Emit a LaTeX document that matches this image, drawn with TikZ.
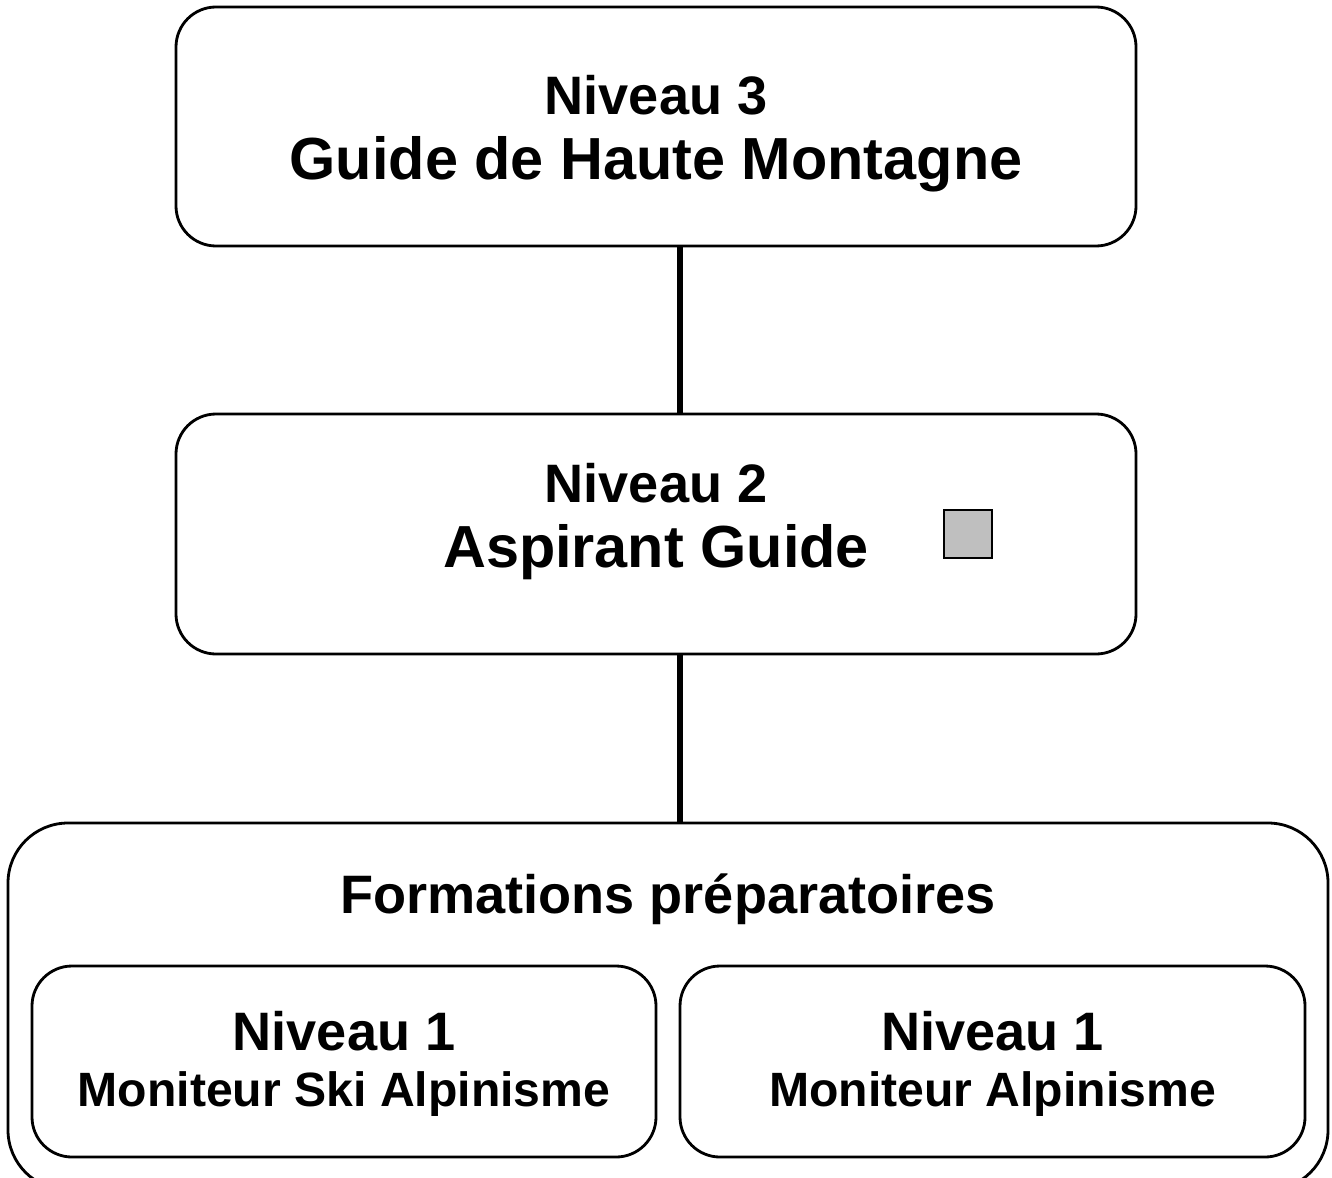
\documentclass[tikz,border=0pt]{standalone}
\usepackage{fontspec}
\setmainfont{Liberation Sans}
\usepackage{tikz}
\usetikzlibrary{calc}
\usetikzlibrary{positioning}

\tikzset{
	niveau/.style={draw, line width=0.8pt, rounded corners=0.4cm, inner sep=0pt},
	lien/.style={line width=1.5pt},
	grand/.style={font=\fontsize{16.9}{18}\selectfont\bfseries, anchor=base, inner sep=0pt},
	moyen/.style={font=\fontsize{15.4}{17}\selectfont\bfseries, anchor=base, inner sep=0pt},
	petit/.style={font=\fontsize{13.7}{15}\selectfont\bfseries, anchor=base, inner sep=0pt}
}

\begin{document}
\begin{tikzpicture}
	\useasboundingbox (0,0) rectangle (13.32,11.77);
	\begin{scope}
	\clip (0,0) rectangle (13.32,11.77);
	
	% les cadres
	\node[niveau, minimum width=9.6cm, minimum height=2.39cm] (N3) at (6.56,10.505) {};
	\node[niveau, minimum width=9.6cm, minimum height=2.40cm] (N2) at (6.56,6.43) {};
	\node[niveau, rounded corners=0.6cm, minimum width=13.2cm, minimum height=3.67cm] (F) at (6.68,1.705) {};
	\node[niveau, minimum width=6.24cm, minimum height=1.91cm] (N1a) at (3.44,1.155) {};
	\node[niveau, minimum width=6.25cm, minimum height=1.91cm] (N1b) at (9.925,1.155) {};
	\node[draw, line width=0.8pt, fill=black!25, minimum size=0.48cm, inner sep=0pt] (sq) at (9.68,6.43) {};
	
	\draw[lien] ([xshift=0.24cm]N3.south) -- ([xshift=0.24cm]N2.north);
	\draw[lien] ([xshift=0.24cm]N2.south) -- ([xshift=0.24cm]F.north -| N2.south);
	
	% les textes
	\node[moyen] (t3) at (6.56,10.62) {Niveau 3};
	\node[grand] (g3) at (6.56,9.97) {Guide de Haute Montagne};
	\node[moyen] (t2) at (6.56,6.75) {Niveau 2};
	\node[grand] (g2) at (6.56,6.10) {Aspirant Guide};
	\node[moyen] (tf) at (6.68,2.64) {Formations préparatoires};
	\node[moyen] (t1a) at (3.44,1.27) {Niveau 1};
	\node[petit] (m1a) at (3.44,0.71) {Moniteur Ski Alpinisme};
	\node[moyen] (t1b) at (9.925,1.27) {Niveau 1};
	\node[petit] (m1b) at (9.925,0.71) {Moniteur Alpinisme};
	
	\end{scope}
\end{tikzpicture}
\end{document}
